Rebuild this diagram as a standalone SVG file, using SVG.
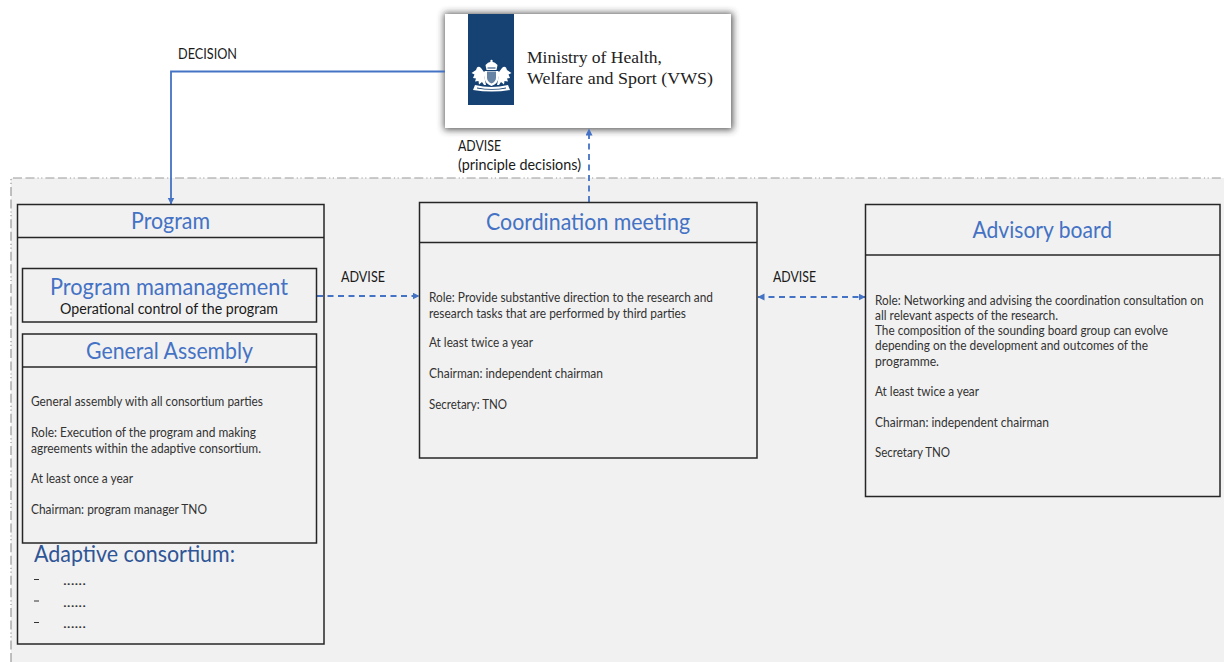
<svg xmlns="http://www.w3.org/2000/svg" width="1224" height="662" viewBox="0 0 1224 662">
<style>
text{font-family:"Lato","Carlito","Liberation Sans",sans-serif;fill:#262626}
.t{fill:#4472c4;font-size:23px}
.b{font-size:12.5px;fill:#333}
.l{font-size:14.500px;fill:#1a1a1a}
.s{font-family:"Liberation Serif","Times New Roman",serif;font-size:17.500px;fill:#222}
.box{fill:none;stroke:#262626;stroke-width:1.5}
.c{fill:none;stroke:#4472c4;stroke-width:1.8}
.d{stroke-dasharray:6 4.500}
</style>
<defs>
<filter id="sh" x="-10%" y="-25%" width="120%" height="150%"><feGaussianBlur stdDeviation="3.500"/></filter>
<marker id="a" markerWidth="8" markerHeight="8" refX="6.500" refY="3.500" orient="auto-start-reverse" markerUnits="userSpaceOnUse"><path d="M0 0L7 3.500L0 7z" fill="#4472c4"/></marker>
</defs>
<rect width="1224" height="662" fill="#fff"/>
<g id="region">
<rect x="11" y="178" width="1214" height="485" fill="#f1f1f1"/>
<path d="M11 662V178H1224" fill="none" stroke="#999" stroke-width="1.200" stroke-dasharray="9 3.500 9 3 1.200 2.500 1.200 3"/>
</g>
<g id="ministry">
<rect x="444" y="13" width="289" height="117" fill="#333" opacity=".8" filter="url(#sh)"/>
<rect x="445" y="14" width="286" height="114" fill="#fff"/>
<rect x="468" y="14" width="46" height="91" fill="#154273"/>
<g fill="#fff">
<circle cx="491.500" cy="61" r="1.200"/>
<path d="M486.500 70l-1-5q2-3 6-3.500q4 .5 6 3.500l-1 5z"/>
<path d="M484.500 71h14v7q0 5-7 8q-7-3-7-8z"/>
<path d="M484 72l-3-4q-2-2-4-.5l-1 2.500l-4.500 3l3 1.500l-1.500 3.500l3 .5l-1 3l3.500-.5l.5 3.500l3-2.500l2 3h2l-1-5q-1-3 1-8z"/>
<path d="M499 72l3-4q2-2 4-.5l1 2.500l4.500 3l-3 1.500l1.500 3.500l-3 .5l1 3l-3.500-.5l-.5 3.500l-3-2.500l-2 3h-2l1-5q1-3-1-8z"/>
<path d="M475 85q16 4 33 0l2 5q-18 3-37 0z"/>
</g>
<g fill="#154273">
<path d="M487 71.500h9v6q0 4-4.500 6q-4.500-2-4.500-6z" opacity=".65"/>
<path d="M477 87.500q15 3 29 0v1q-14 2.500-29 0z"/>
<rect x="487.500" y="67.500" width="8" height="1"/>
</g>
<text class="s" x="527" y="63" textLength="135" lengthAdjust="spacingAndGlyphs">Ministry of Health,</text>
<text class="s" x="527" y="84" textLength="186" lengthAdjust="spacingAndGlyphs">Welfare and Sport (VWS)</text>
</g>
<g id="connectors">
<path class="c" d="M445 71.500H171V204" marker-end="url(#a)"/>
<path class="c d" d="M589 202V129" marker-end="url(#a)"/>
<path class="c d" d="M317 296H419" marker-end="url(#a)"/>
<path class="c d" d="M758 297H865" marker-start="url(#a)" marker-end="url(#a)"/>
</g>
<g id="labels">
<text class="l" x="178" y="59" textLength="59" lengthAdjust="spacingAndGlyphs">DECISION</text>
<text class="l" x="458" y="151" textLength="43" lengthAdjust="spacingAndGlyphs">ADVISE</text>
<text class="l" x="458" y="170" textLength="123" lengthAdjust="spacingAndGlyphs">(principle decisions)</text>
<text class="l" x="341" y="282" textLength="44" lengthAdjust="spacingAndGlyphs">ADVISE</text>
<text class="l" x="773" y="282" textLength="43" lengthAdjust="spacingAndGlyphs">ADVISE</text>
</g>
<g id="program">
<rect class="box" x="17.500" y="204.500" width="306.500" height="439.500"/>
<path class="box" d="M17.500 237.500H324"/>
<text class="t" x="131" y="229" textLength="79" lengthAdjust="spacingAndGlyphs">Program</text>
<text x="34" y="562" font-size="23" style="fill:#2f5597" textLength="201" lengthAdjust="spacingAndGlyphs">Adaptive consortium:</text>
<path d="M34 579.500h5M34 601h5M34 622.500h5" stroke="#333" stroke-width="1.200" fill="none"/>
<text class="b" x="63" y="585" textLength="23" lengthAdjust="spacingAndGlyphs">......</text>
<text class="b" x="63" y="607" textLength="23" lengthAdjust="spacingAndGlyphs">......</text>
<text class="b" x="63" y="628" textLength="23" lengthAdjust="spacingAndGlyphs">......</text>
</g>
<g id="program-management">
<rect class="box" x="22.500" y="268.500" width="294" height="53.500"/>
<text class="t" x="50" y="295" textLength="238" lengthAdjust="spacingAndGlyphs">Program mamanagement</text>
<text x="60" y="314" font-size="14.500" style="fill:#1a1a1a" textLength="218" lengthAdjust="spacingAndGlyphs">Operational control of the program</text>
</g>
<g id="general-assembly">
<rect class="box" x="22.500" y="334" width="294" height="209"/>
<path class="box" d="M22.500 367H316.500"/>
<text class="t" x="86" y="359" textLength="167" lengthAdjust="spacingAndGlyphs">General Assembly</text>
<text class="b" x="31" y="406" textLength="232" lengthAdjust="spacingAndGlyphs">General assembly with all consortium parties</text>
<text class="b" x="31" y="437" textLength="225" lengthAdjust="spacingAndGlyphs">Role: Execution of the program and making</text>
<text class="b" x="31" y="453" textLength="230" lengthAdjust="spacingAndGlyphs">agreements within the adaptive consortium.</text>
<text class="b" x="31" y="483" textLength="102" lengthAdjust="spacingAndGlyphs">At least once a year</text>
<text class="b" x="31" y="514" textLength="176" lengthAdjust="spacingAndGlyphs">Chairman: program manager TNO</text>
</g>
<g id="coordination-meeting">
<rect class="box" x="419.500" y="202.500" width="337.500" height="255.500"/>
<path class="box" d="M419.500 242.500H757"/>
<text class="t" x="486" y="230" textLength="204" lengthAdjust="spacingAndGlyphs">Coordination meeting</text>
<text class="b" x="429" y="302" textLength="284" lengthAdjust="spacingAndGlyphs">Role: Provide substantive direction to the research and</text>
<text class="b" x="429" y="318" textLength="257" lengthAdjust="spacingAndGlyphs">research tasks that are performed by third parties</text>
<text class="b" x="429" y="347" textLength="104" lengthAdjust="spacingAndGlyphs">At least twice a year</text>
<text class="b" x="429" y="378" textLength="174" lengthAdjust="spacingAndGlyphs">Chairman: independent chairman</text>
<text class="b" x="429" y="409" textLength="78" lengthAdjust="spacingAndGlyphs">Secretary: TNO</text>
</g>
<g id="advisory-board">
<rect class="box" x="865.500" y="204.500" width="354.500" height="292"/>
<path class="box" d="M865.500 255H1220"/>
<text class="t" x="972.500" y="238" textLength="139.500" lengthAdjust="spacingAndGlyphs">Advisory board</text>
<text class="b" x="875" y="305" textLength="328.500" lengthAdjust="spacingAndGlyphs">Role: Networking and advising the coordination consultation on</text>
<text class="b" x="875" y="320" textLength="183" lengthAdjust="spacingAndGlyphs">all relevant aspects of the research.</text>
<text class="b" x="875" y="335" textLength="293" lengthAdjust="spacingAndGlyphs">The composition of the sounding board group can evolve</text>
<text class="b" x="875" y="350" textLength="273" lengthAdjust="spacingAndGlyphs">depending on the development and outcomes of the</text>
<text class="b" x="875" y="366" textLength="64" lengthAdjust="spacingAndGlyphs">programme.</text>
<text class="b" x="875" y="396" textLength="104" lengthAdjust="spacingAndGlyphs">At least twice a year</text>
<text class="b" x="875" y="427" textLength="174" lengthAdjust="spacingAndGlyphs">Chairman: independent chairman</text>
<text class="b" x="875" y="457" textLength="75" lengthAdjust="spacingAndGlyphs">Secretary TNO</text>
</g>
</svg>
